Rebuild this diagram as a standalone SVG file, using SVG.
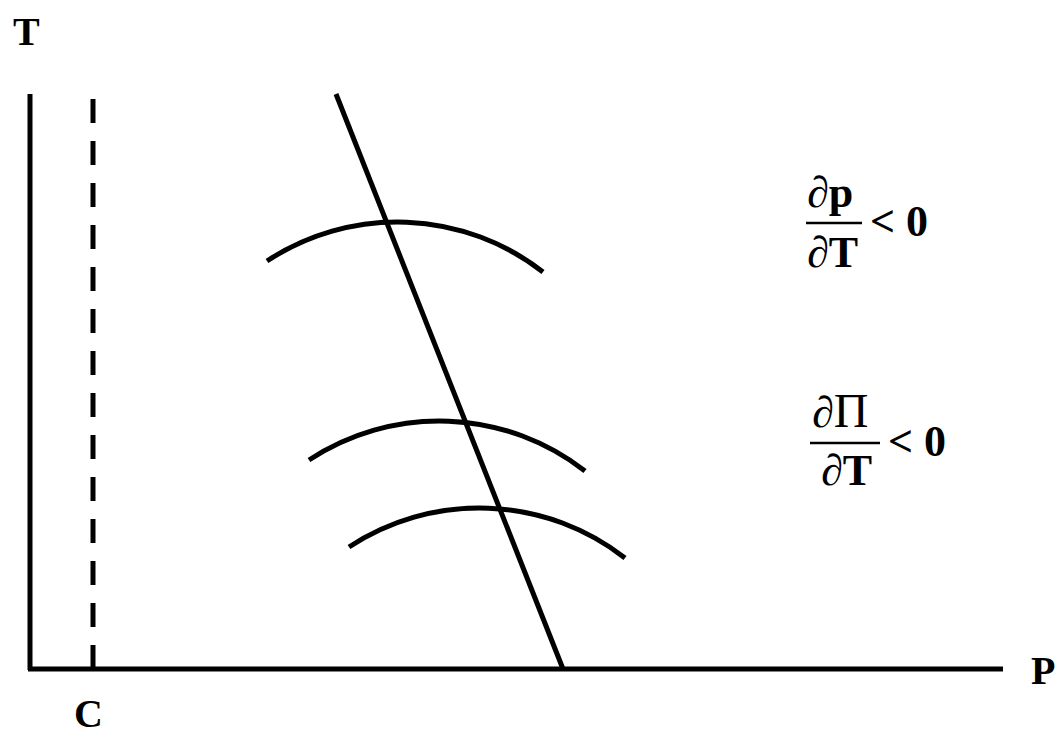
<svg xmlns="http://www.w3.org/2000/svg" width="1061" height="734" viewBox="0 0 1061 734">
<style>
.ln{stroke:#000;stroke-width:5;fill:none}
.t{font-family:"Liberation Serif","Times New Roman",serif;font-weight:bold;font-size:40px;fill:#000}
.f{font-size:44px}
.s{font-weight:normal}
</style>
<rect width="1061" height="734" fill="#fff"/>
<g id="axes">
<line class="ln" x1="30" y1="94" x2="30" y2="670"/>
<line class="ln" x1="28" y1="669" x2="1003" y2="669"/>
</g>
<g id="connectors">
<line class="ln" x1="93" y1="99" x2="93" y2="669" stroke-dasharray="24 18"/>
<line class="ln" x1="336" y1="94" x2="563" y2="669"/>
<path class="ln" d="M267,261 A237,237 0 0,1 543,272"/>
<path class="ln" d="M309,460 A237,237 0 0,1 585,471"/>
<path class="ln" d="M349,547 A237,237 0 0,1 625,558"/>
</g>
<g id="labels">
<text class="t" x="13" y="45">T</text>
<text class="t" x="74" y="727">C</text>
<text class="t" x="1031" y="684">P</text>
</g>
<g id="frac1">
<text class="t f" x="807" y="207"><tspan class="s" font-style="italic">∂</tspan>p</text>
<line x1="806" y1="223" x2="862" y2="223" stroke="#000" stroke-width="2.5"/>
<text class="t f" x="807" y="267"><tspan class="s" font-style="italic">∂</tspan>T</text>
<text class="t f" x="870" y="236">&lt; 0</text>
</g>
<g id="frac2">
<text class="t f" x="812" y="427"><tspan class="s" font-style="italic">∂</tspan><tspan class="s" font-size="48">Π</tspan></text>
<line x1="810" y1="443" x2="880" y2="443" stroke="#000" stroke-width="2.5"/>
<text class="t f" x="821" y="485"><tspan class="s" font-style="italic">∂</tspan>T</text>
<text class="t f" x="888" y="456">&lt; 0</text>
</g>
</svg>
